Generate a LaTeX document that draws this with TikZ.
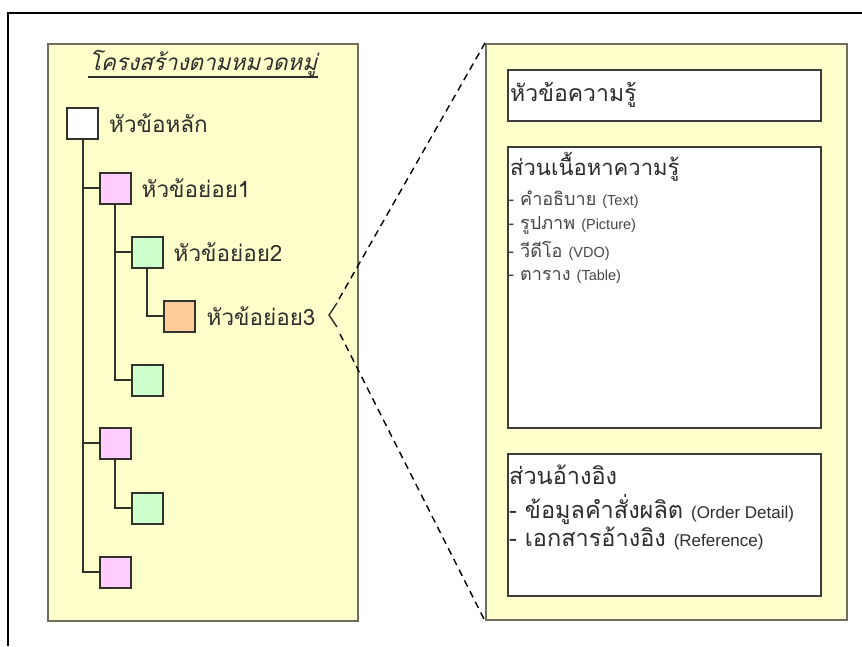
\documentclass[tikz,border=0pt]{standalone}
\usepackage{fontspec}
\setmainfont[Script=Thai]{Loma}
\newfontfamily\thaifont[Script=Thai]{Loma}
\newfontfamily\thaislant[Script=Thai,FakeSlant=0.25]{Loma}
\newfontfamily\latinfont{Liberation Sans}
\newcommand\latsmall[1]{{\latinfont\fontsize{14.5}{17}\selectfont #1}}
\newcommand\latmid[1]{{\latinfont\fontsize{17}{20}\selectfont #1}}
\begin{document}
\begin{tikzpicture}[x=1pt,y=-1pt,
  panel/.style={draw=panelline,line width=2pt,fill=panelfill,anchor=north west,inner sep=0pt},
  infobox/.style={draw=boxline,line width=2pt,fill=white,anchor=north west,inner sep=0pt,minimum width=313pt},
  sq/.style={draw=sqline,line width=2pt,minimum size=31pt,inner sep=0pt},
  link/.style={draw=sqline,line width=2pt},
  treelabel/.style={anchor=west,inner sep=0pt,text=txt,font=\thaifont\fontsize{22.5}{26}\selectfont},
  headtext/.style={anchor=west,inner sep=0pt,text=txt,font=\thaifont\fontsize{23}{26}\selectfont},
  smalltext/.style={anchor=west,inner sep=0pt,text=txtlight,font=\thaifont\fontsize{18}{21}\selectfont},
  midtext/.style={anchor=west,inner sep=0pt,text=txt,font=\thaifont\fontsize{23.5}{27}\selectfont},
  zoomline/.style={draw=black,line width=1.4pt,dash pattern=on 7pt off 5pt}
]
\definecolor{panelfill}{RGB}{255,255,204}
\definecolor{panelline}{RGB}{110,110,95}
\definecolor{boxline}{RGB}{60,60,60}
\definecolor{sqline}{RGB}{50,50,45}
\definecolor{pinkfill}{RGB}{255,204,255}
\definecolor{greenfill}{RGB}{204,255,204}
\definecolor{orangefill}{RGB}{255,204,153}
\definecolor{txt}{RGB}{45,45,45}
\definecolor{txtlight}{RGB}{70,70,70}

\useasboundingbox (0,0) rectangle (862,646);
\fill[white] (0,0) rectangle (862,646);

% outer frame (top and left edges)
\draw[line width=2pt,black] (8,646) -- (8,13) -- (862,13);

% left panel: category tree
\node[panel,minimum width=310pt,minimum height=577pt] (lp) at (47,43) {};
\node[anchor=center,inner sep=0pt,text=txt,font=\thaislant\fontsize{22.5}{26}\selectfont] (ttl) at (203,63) {โครงสร้างตามหมวดหมู่};
\draw[line width=1.3pt,txt] (88,77) -- (318,77);

\node[sq,fill=white]      (r)  at (82.5,123) {};
\node[sq,fill=pinkfill]   (p1) at (115,188) {};
\node[sq,fill=greenfill]  (g1) at (147,252) {};
\node[sq,fill=orangefill] (o1) at (179,316) {};
\node[sq,fill=greenfill]  (g2) at (147,380) {};
\node[sq,fill=pinkfill]   (p2) at (115,443) {};
\node[sq,fill=greenfill]  (g3) at (147,508) {};
\node[sq,fill=pinkfill]   (p3) at (115,572) {};

\draw[link] (r.south) |- (p1.west);
\draw[link] (r.south) |- (p2.west);
\draw[link] (r.south) |- (p3.west);
\draw[link] (p1.south) |- (g1.west);
\draw[link] (p1.south) |- (g2.west);
\draw[link] (g1.south) |- (o1.west);
\draw[link] (p2.south) |- (g3.west);

\node[treelabel] (lr)  at ([xshift=10pt]r.east)  {หัวข้อหลัก};
\node[treelabel] (lp1) at ([xshift=10pt]p1.east) {หัวข้อย่อย1};
\node[treelabel] (lg1) at ([xshift=10pt]g1.east) {หัวข้อย่อย2};
\node[treelabel] (lo1) at ([xshift=11pt]o1.east) {หัวข้อย่อย3};

% right panel: knowledge page layout
\node[panel,minimum width=361pt,minimum height=576pt] (rp) at (485,43) {};
\node[infobox,minimum height=51pt]  (b1) at (507,69) {};
\node[infobox,minimum height=281pt] (b2) at (507,146) {};
\node[infobox,minimum height=142pt] (b3) at (507,453) {};

\node[headtext] (t1) at (510,95) {หัวข้อความรู้};
\node[headtext,font=\thaifont\fontsize{22}{25}\selectfont] (t2) at (510,167) {ส่วนเนื้อหาความรู้};
\node[smalltext] (i1) at (508,200) {- คำอธิบาย \latsmall{(Text)}};
\node[smalltext] (i2) at (508,225) {- รูปภาพ \latsmall{(Picture)}};
\node[smalltext] (i3) at (508,251) {- วีดีโอ \latsmall{(VDO)}};
\node[smalltext] (i4) at (508,277) {- ตาราง \latsmall{(Table)}};

\node[midtext] (t3) at (509,475) {ส่วนอ้างอิง};
\node[midtext] (j1) at (509,509) {- ข้อมูลคำสั่งผลิต \latmid{(Order Detail)}};
\node[midtext] (j2) at (509,538) {- เอกสารอ้างอิง \latmid{(Reference)}};

% zoom marker and guide lines
\coordinate (ct) at (337,303);
\coordinate (cm) at (329,315);
\coordinate (cb) at (337,327);
\draw[line width=1.4pt,txt] (ct) -- (cm) -- (cb);
\coordinate (du) at (339,299);
\coordinate (dl) at (340,334);
\draw[zoomline] (du) -- (rp.north west);
\draw[zoomline] (dl) -- (rp.south west);
\end{tikzpicture}
\end{document}
